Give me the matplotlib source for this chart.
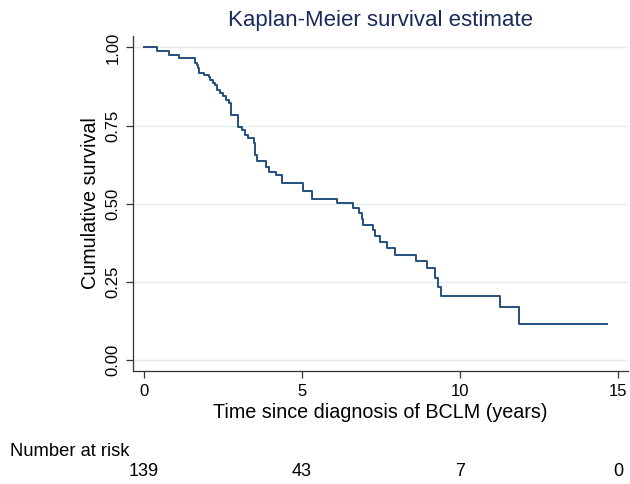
import matplotlib
matplotlib.use("Agg")
import matplotlib.pyplot as plt

# Kaplan-Meier step data (time in years, survival after the step)
times = [0.0, 0.40, 0.80, 1.12, 1.61, 1.67, 1.72, 1.75, 1.90, 2.06, 2.09, 2.17,
         2.25, 2.32, 2.41, 2.51, 2.59, 2.70, 2.74, 2.98, 3.09, 3.20, 3.30, 3.48,
         3.51, 3.57, 3.86, 3.97, 4.18, 4.36, 5.02, 5.31, 6.12, 6.62, 6.81, 6.89,
         6.94, 7.24, 7.31, 7.47, 7.68, 7.94, 8.60, 8.95, 9.21, 9.31, 9.39, 11.27,
         11.88, 14.64]
surv = [1.000, 0.990, 0.976, 0.965, 0.949, 0.943, 0.933, 0.919, 0.912, 0.905, 0.896, 0.887,
        0.880, 0.864, 0.853, 0.845, 0.832, 0.821, 0.784, 0.747, 0.736, 0.720, 0.709, 0.693,
        0.656, 0.637, 0.619, 0.603, 0.592, 0.567, 0.542, 0.514, 0.501, 0.485, 0.469, 0.450,
        0.432, 0.416, 0.397, 0.379, 0.357, 0.336, 0.317, 0.293, 0.263, 0.235, 0.206, 0.171,
        0.114, 0.114]

risk_times = [0, 5, 10, 15]
risk_counts = [139, 43, 7, 0]
xticks = [0, 5, 10, 15]
yticks = [0.00, 0.25, 0.50, 0.75, 1.00]

plt.rcParams['font.family'] = ['Liberation Sans', 'DejaVu Sans']

fig = plt.figure(figsize=(6.3, 4.84), dpi=100)
ax = fig.add_axes([133/630, 1-371/484, (628-133)/630, (371-36)/484])

ax.step(times, surv, where='post', color='#24507e', lw=1.4, zorder=3)

ax.set_xlim(-0.348, 15.32)
ax.set_ylim(-0.0352, 1.0368)
ax.set_xticks(xticks)
ax.set_xticklabels([str(t) for t in xticks])
ax.set_yticks(yticks)
ax.set_yticklabels([f"{v:.2f}" for v in yticks], rotation=90, va='center')
ax.grid(axis='y', color='#e4eced', lw=1.0)
ax.set_axisbelow(True)
for s in ['top', 'right']:
    ax.spines[s].set_visible(False)
for s in ['left', 'bottom']:
    ax.spines[s].set_color('#333333')
    ax.spines[s].set_linewidth(0.9)
ax.tick_params(axis='both', direction='out', length=5, width=0.9, color='#333333',
               labelsize=12, pad=4)

ax.set_xlabel('Time since diagnosis of BCLM (years)', fontsize=14.2, labelpad=3)
ax.set_ylabel('Cumulative survival', fontsize=14.2, labelpad=4)
ax.set_title('Kaplan-Meier survival estimate', fontsize=16, color='#1a2a5a', pad=7)

fig.text(10/630, 1-452/484, 'Number at risk', fontsize=13.2, ha='left', va='center')
for t, n in zip(risk_times, risk_counts):
    x_disp = ax.transData.transform((t, 0))[0]
    fig.text(x_disp/630, 1-471/484, str(n), fontsize=13, ha='center', va='center')

fig.savefig('out.png', dpi=100)
